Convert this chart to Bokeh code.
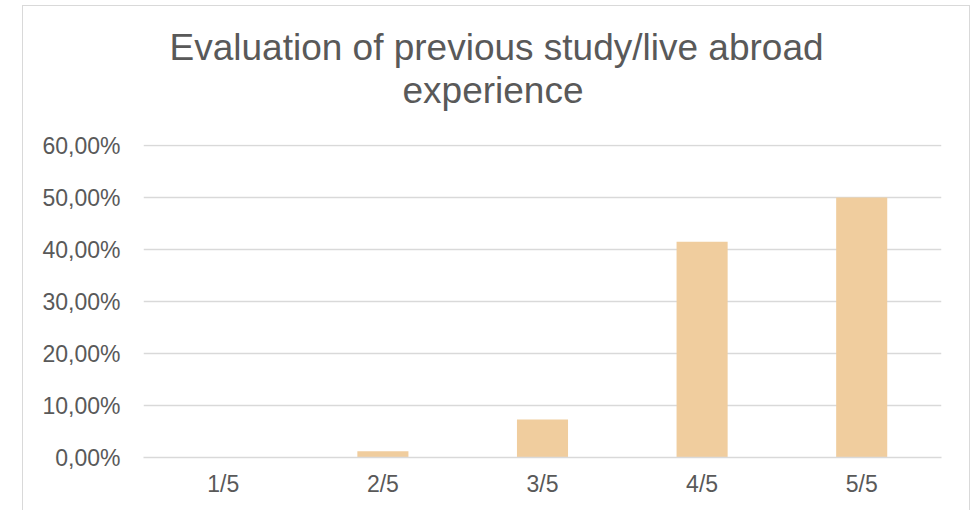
from bokeh.plotting import figure
from bokeh.models import Range1d, FactorRange, CustomJSTickFormatter, Title, ColumnDataSource
from bokeh.embed import file_html
from bokeh.resources import INLINE

categories = ["1/5", "2/5", "3/5", "4/5", "5/5"]
shares = [0.0, 1.2, 7.3, 41.5, 50.0]
title_lines = ["Evaluation of previous study/live abroad", "experience"]

FONT = "Liberation Sans"
TXT = "#595959"
GRID = "#d9d9d9"

W, H = 948, 505
p = figure(x_range=FactorRange(*categories, range_padding=0), y_range=Range1d(0, 60.2),
           width=W, height=H, output_backend="svg", toolbar_location=None, title=None,
           min_border_left=120, min_border_right=30, min_border_top=138, min_border_bottom=54)
p.margin = (5, 0, 0, 22)
p.styles = {"border-top": "1.5px solid #d9d9d9", "border-left": "1.5px solid #d9d9d9",
            "border-right": "1.5px solid #d9d9d9"}

src = ColumnDataSource(dict(cat=categories, val=shares))
p.vbar(x="cat", top="val", width=0.32, source=src, fill_color="#F0CD9E", line_color=None)

p.outline_line_color = None
p.xgrid.grid_line_color = None
p.ygrid.grid_line_color = GRID
p.ygrid.grid_line_width = 1.5
p.yaxis.ticker = [0, 10, 20, 30, 40, 50, 60]
p.yaxis.formatter = CustomJSTickFormatter(code="return tick.toFixed(2).replace('.', ',') + '%';")

for ax in (p.xaxis[0], p.yaxis[0]):
    ax.major_tick_line_color = None
    ax.minor_tick_line_color = None
    ax.major_label_text_font = FONT
    ax.major_label_text_font_size = "23px"
    ax.major_label_text_color = TXT
p.yaxis.axis_line_color = None
p.yaxis.major_label_standoff = 17
p.xaxis.axis_line_color = GRID
p.xaxis.axis_line_width = 1.5
p.xaxis.major_label_standoff = 7

# spacer between the frame and the two title lines (panels stack outward from the frame)
p.add_layout(Title(text=" ", text_font_size="1px", standoff=31), "above")
# inner line first, outer line last; left-aligned with offsets so the block is centred on the chart
for line, offset in ((title_lines[1], 259), (title_lines[0], 26)):
    p.add_layout(Title(text=line, align="left", offset=offset, standoff=0,
                       text_font=FONT, text_font_size="37px", text_color=TXT,
                       text_font_style="normal"), "above")

open("out.html", "w").write(file_html(p, INLINE))
